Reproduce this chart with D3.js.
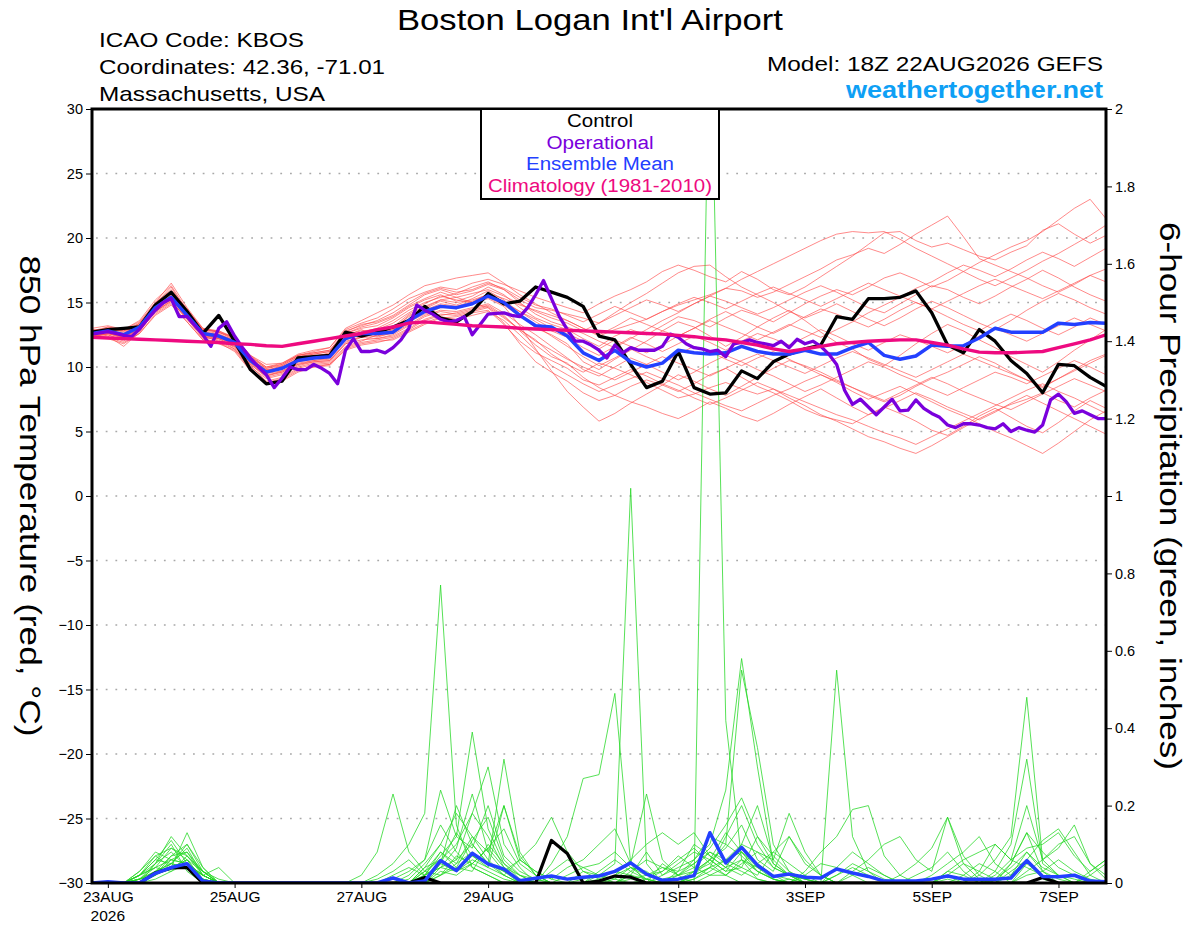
<!DOCTYPE html>
<html><head><meta charset="utf-8">
<script src="https://cdn.jsdelivr.net/npm/d3@7"></script>
<style>
body{margin:0;background:#fff}
svg{display:block;font-family:"Liberation Sans",Arial,Helvetica,sans-serif}
</style>
</head><body>
<svg id="chart" width="1200" height="927"></svg>
<script>
// ---------------- DATA ----------------
const runStartUTC = [2026, 7, 22, 18];   // 18Z 22AUG2026, 6-hourly steps
const stepHours = 6;
const opStepHours = 3;

const tempTicks = [-30,-25,-20,-15,-10,-5,0,5,10,15,20,25,30];
const precipTicks = [0,0.2,0.4,0.6,0.8,1,1.2,1.4,1.6,1.8,2];
const precipTickLabels = ["0","0.2","0.4","0.6","0.8","1","1.2","1.4","1.6","1.8","2"];
const dateTickDates = [[2026,7,23],[2026,7,25],[2026,7,27],[2026,7,29],[2026,8,1],[2026,8,3],[2026,8,5],[2026,8,7]];
const dateTickLabels = ["23AUG","25AUG","27AUG","29AUG","1SEP","3SEP","5SEP","7SEP"];

const controlTemp = [12.7,12.9,13.0,13.1,14.8,15.8,14.3,12.6,14.0,12.0,
 9.8,8.7,8.9,10.7,10.8,10.9,12.7,12.4,12.7,13.1,
 13.6,14.7,13.8,13.5,14.3,15.7,14.9,15.1,16.2,15.8,
 15.4,14.7,12.4,12.1,10.2,8.4,8.9,11.2,8.4,7.9,
 8.0,9.7,9.1,10.4,11.0,11.4,11.7,13.9,13.7,15.3,
 15.3,15.4,15.9,14.2,11.7,11.1,12.9,12.0,10.5,9.5,
 8.0,10.2,10.1,9.2,8.5];

const meanTemp = [12.6,12.8,12.5,13.1,14.6,15.4,14.0,12.6,12.4,11.9,
 10.5,9.6,9.9,10.5,10.7,10.8,12.2,12.6,12.6,12.7,
 13.6,14.3,14.7,14.6,14.9,15.5,15.0,14.0,13.2,13.1,
 12.4,11.1,10.5,11.3,10.4,10.0,10.3,11.3,11.1,11.0,
 11.1,11.6,11.2,11.0,11.0,11.3,11.0,11.0,11.5,11.9,
 10.9,10.6,10.85,11.7,11.6,11.65,12.25,13.0,12.7,12.7,
 12.7,13.4,13.3,13.45,13.4];

// operational run, 3-hourly
const operationalTemp = [12.55,12.65,12.75,12.6,12.45,12.35,12.95,13.7,14.4,15.0,
 15.3,13.9,13.9,13.2,12.5,11.6,13.0,13.5,12.4,11.5,
 10.7,10.0,9.4,8.4,9.15,10.0,9.8,9.8,10.2,9.9,
 9.5,8.7,11.3,12.2,11.2,11.2,11.3,11.1,11.5,12.1,
 13.0,14.8,14.4,14.1,13.7,13.5,13.6,13.9,12.5,13.3,
 14.1,14.15,14.2,14.0,13.9,14.6,15.6,16.7,15.3,13.9,
 12.9,12.0,12.0,11.7,11.3,10.7,11.7,11.1,11.5,11.3,
 11.3,11.3,11.6,12.55,12.3,11.8,11.5,11.4,11.2,11.3,
 10.8,11.8,11.9,12.1,11.9,11.8,11.65,12.0,11.5,12.15,
 11.8,12.0,11.6,11.0,10.2,8.2,7.1,7.5,6.9,6.3,
 6.9,7.5,6.6,6.65,7.45,6.8,6.4,6.1,5.5,5.3,
 5.6,5.6,5.5,5.3,5.2,5.6,5.0,5.3,5.1,4.95,
 5.5,7.45,7.9,7.3,6.4,6.6,6.3,6.0,6.0];

const climatologyTemp = [12.3,12.25,12.2,12.15,12.1,12.05,12.0,11.95,11.9,11.8,
 11.75,11.65,11.6,11.8,12.0,12.2,12.4,12.6,12.9,13.1,
 13.4,13.5,13.4,13.3,13.2,13.15,13.1,13.0,12.95,12.9,
 12.85,12.8,12.75,12.7,12.65,12.6,12.55,12.45,12.35,12.2,
 12.1,11.9,11.7,11.4,11.2,11.4,11.6,11.8,11.9,12.0,
 12.05,12.1,12.1,11.9,11.7,11.4,11.15,11.1,11.1,11.15,
 11.2,11.5,11.8,12.1,12.5];

const tempMember01 = [12.8,13.0,12.7,13.3,14.9,16.2,14.2,12.9,12.8,12.2,10.9,10.0,10.2,10.9,11.2,11.5,
 12.9,13.4,13.8,14.5,15.3,15.8,16.2,16.0,16.5,16.8,16.4,15.9,15.4,15.0,14.6,
 14.2,14.9,15.5,16.0,16.6,17.4,17.9,17.5,17.0,16.6,17.4,16.8,16.0,15.6,16.2,17.0,17.8,
 18.6,19.5,20.4,20.5,19.8,19.3,19.6,19.1,18.6,18.3,18.9,19.4,20.6,21.1,20.3,19.6,20.2];
const tempMember02 = [12.4,12.5,12.1,12.8,14.3,15.1,13.7,12.2,11.9,11.4,10.0,9.1,9.4,10.0,10.3,10.4,
 11.8,12.1,12.2,12.4,13.0,13.7,14.1,14.0,14.3,14.6,13.4,11.8,10.4,9.6,8.9,
 8.0,7.4,7.8,8.5,9.0,8.6,8.1,8.7,9.4,9.9,9.2,8.5,8.0,7.4,6.7,6.2,5.9,
 5.6,6.3,6.9,6.4,5.8,5.1,4.7,5.4,6.2,6.8,6.1,5.4,4.9,5.7,6.6,7.4,6.8];
const tempMember03 = [12.9,12.6,12.3,13.0,14.5,15.6,14.3,12.4,12.0,11.6,10.2,9.3,9.7,10.4,10.6,10.9,
 12.4,12.9,12.4,12.9,14.0,14.5,15.1,14.8,15.3,15.9,15.2,14.1,13.0,12.5,11.8,
 10.4,9.8,10.6,11.3,12.0,12.8,13.5,13.1,12.4,11.6,12.3,13.1,13.8,14.4,13.6,12.7,11.9,
 11.4,10.6,10.1,10.9,11.8,12.6,13.3,12.8,12.1,11.5,10.8,10.2,9.6,10.4,11.3,12.1,12.9];
const tempMember04 = [12.5,12.9,12.8,13.2,14.7,15.3,13.9,12.7,12.5,12.1,10.6,9.8,9.8,10.6,10.9,11.0,
 12.0,12.3,12.9,13.4,14.2,14.9,15.5,15.2,15.0,15.7,15.3,14.8,14.4,14.0,13.6,
 13.0,12.4,12.9,13.3,13.7,14.3,14.8,15.2,15.6,16.1,15.9,15.4,15.8,16.4,17.0,17.6,18.3,
 18.7,19.2,18.8,19.5,20.3,21.0,21.7,20.1,18.4,17.9,17.4,16.9,16.3,15.8,16.4,17.1,16.6];
const tempMember05 = [12.7,12.4,11.6,12.7,14.4,15.5,14.1,12.5,12.3,11.8,10.4,9.4,9.6,10.3,10.5,10.6,
 12.1,12.5,12.7,13.0,13.9,14.6,15.2,15.4,15.0,14.6,13.8,12.9,12.1,11.0,10.2,
 9.6,10.3,9.9,9.4,8.8,8.2,7.6,7.9,8.4,8.8,8.3,7.9,8.3,7.6,7.0,6.3,5.8,
 5.2,4.6,4.2,3.7,3.3,3.9,4.6,5.3,6.0,6.6,7.1,7.5,8.0,7.4,6.9,7.6,8.2];
const tempMember06 = [12.6,13.1,12.9,13.5,15.0,16.5,14.6,13.0,12.7,12.3,10.9,10.2,10.3,10.9,11.1,11.3,
 12.6,13.0,13.2,13.8,14.6,15.2,15.6,15.1,15.5,16.2,15.6,14.6,13.8,13.3,12.9,
 12.2,11.6,12.4,12.9,12.5,13.2,13.9,13.6,13.1,13.8,14.4,14.0,13.5,14.2,14.9,15.5,16.0,
 15.6,16.2,16.9,17.3,16.8,16.2,16.7,17.4,18.1,18.7,19.3,19.8,20.5,21.4,22.3,23.0,21.5];
const tempMember07 = [12.3,12.6,12.4,12.9,14.2,15.0,13.8,12.3,12.2,11.5,10.1,8.9,9.2,9.9,10.2,10.3,
 11.6,12.0,12.5,12.8,13.6,14.3,14.8,14.5,14.9,15.3,14.7,13.2,11.4,9.7,8.1,
 6.9,5.8,6.4,7.2,7.9,8.6,9.4,8.9,8.3,7.8,8.5,9.2,9.9,10.5,10.1,9.6,9.0,
 8.4,7.8,7.3,7.8,8.5,9.1,9.6,10.2,10.8,10.3,9.6,9.0,8.4,9.1,9.8,10.5,11.0];
const tempMember08 = [12.9,12.8,12.6,13.4,14.8,15.8,14.5,12.8,12.6,12.0,10.7,9.7,10.1,10.8,11.0,11.2,
 12.7,13.3,13.5,14.0,14.8,15.6,16.0,15.6,15.9,16.4,16.0,15.2,14.6,14.4,14.1,
 13.8,13.4,14.2,15.0,15.7,16.5,17.3,17.8,17.9,17.0,16.2,15.6,15.0,14.3,13.8,14.3,14.9,
 14.3,13.7,13.2,13.8,14.5,15.1,14.6,14.0,13.4,12.9,13.6,14.4,15.1,15.7,15.2,14.6,14.1];
const tempMember09 = [12.5,12.7,12.3,12.9,14.4,15.3,13.9,12.6,12.4,11.9,10.3,9.5,9.7,10.2,10.4,10.5,
 11.9,12.4,12.4,12.6,13.3,14.0,14.4,14.3,14.6,14.9,14.2,13.3,12.5,11.6,10.7,
 9.8,9.3,10.0,10.7,10.2,9.6,9.0,9.6,10.3,10.9,10.4,9.8,9.3,8.7,8.1,8.6,9.2,
 9.8,10.4,10.0,9.4,8.9,8.3,7.8,8.4,9.0,9.6,9.2,8.7,9.3,9.9,10.5,10.0,9.4];
const tempMember10 = [12.7,12.9,12.6,13.2,14.6,15.6,14.0,12.5,12.2,11.8,10.5,9.6,10.0,10.7,10.8,11.0,
 12.3,12.7,13.0,13.6,14.4,15.0,15.4,15.7,16.2,16.6,16.0,15.0,14.1,13.5,13.1,
 12.6,12.0,11.5,12.2,12.9,13.6,14.2,14.9,15.5,15.1,14.6,14.1,14.6,15.2,15.8,16.3,15.8,
 15.2,14.6,14.2,14.9,15.6,16.3,16.0,15.4,14.9,15.5,16.2,16.8,17.5,16.9,16.2,15.6,15.1];
const tempMember11 = [12.4,12.6,12.2,12.8,14.5,15.2,13.8,12.4,12.3,11.7,10.3,9.3,9.6,10.2,10.5,10.7,
 12.2,12.6,12.3,12.7,13.5,14.1,14.6,14.6,15.0,15.4,14.8,13.9,13.2,12.4,11.6,
 10.8,10.1,10.7,11.4,10.8,10.3,11.0,11.6,11.2,10.6,10.1,10.7,11.2,10.6,10.0,9.4,8.8,
 8.1,7.5,8.0,8.5,7.9,7.3,6.7,6.2,5.6,5.0,4.5,3.9,3.3,4.1,5.0,5.9,6.6];
const tempMember12 = [12.8,12.7,12.5,13.1,14.7,15.7,14.1,12.7,12.5,11.9,10.6,9.8,10.0,10.6,10.8,11.1,
 12.5,12.8,12.9,13.1,14.1,14.7,15.2,15.0,15.2,15.6,15.0,14.3,13.7,13.0,12.6,
 12.0,11.4,12.1,11.6,11.1,11.7,12.4,13.0,13.7,14.3,13.7,13.1,12.6,13.2,13.9,14.5,14.1,
 13.6,13.1,13.7,14.4,15.0,14.5,13.9,13.3,12.8,13.5,14.1,13.6,13.0,12.5,13.1,13.8,13.3];
const tempMember13 = [12.6,12.5,12.0,12.9,14.3,15.2,13.9,12.3,12.1,11.4,9.9,8.8,9.0,9.7,10.1,10.2,
 11.5,11.9,12.1,12.3,12.9,13.6,14.0,14.2,14.5,14.8,14.0,12.8,11.7,10.8,10.3,
 9.2,8.4,7.8,7.3,6.9,6.4,6.0,6.6,7.3,6.8,6.2,5.8,6.4,7.1,7.7,8.3,7.6,
 6.9,6.3,6.8,7.4,8.0,7.5,6.9,6.4,5.9,6.5,7.2,7.8,7.2,6.6,6.0,5.4,4.8];
const tempMember14 = [13.0,13.2,12.9,13.6,15.2,16.3,14.4,13.0,12.8,12.3,10.8,10.0,10.3,11.0,11.3,11.5,
 13.0,13.6,14.2,14.8,15.6,16.3,16.6,16.9,17.1,17.3,16.5,15.6,14.9,14.2,13.6,
 13.0,12.5,13.1,13.8,13.3,12.8,12.4,13.0,13.6,13.1,12.6,12.1,12.7,13.3,12.8,12.3,12.9,
 13.5,14.2,14.8,15.4,16.1,16.6,17.3,17.9,17.5,17.0,17.6,18.3,18.9,18.4,17.8,18.5,19.2];
const tempMember15 = [12.5,12.3,11.9,12.6,14.1,14.9,13.5,12.1,11.8,11.3,9.8,8.7,8.9,9.6,10.0,10.1,
 11.4,11.8,12.0,12.1,12.7,13.3,13.8,13.9,14.2,14.4,13.3,12.0,11.1,10.5,9.9,
 9.0,8.6,9.2,9.8,9.3,8.7,8.2,7.6,7.1,7.6,8.2,8.8,8.3,7.8,7.3,6.8,6.3,
 5.9,5.4,4.9,4.5,4.0,4.6,5.2,5.8,6.4,7.0,7.6,8.2,8.7,8.1,7.6,7.0,6.4];
const tempMember16 = [12.7,12.8,12.4,13.0,14.6,15.4,14.2,12.6,12.5,12.0,10.5,9.5,9.9,10.5,10.7,10.8,
 12.2,12.7,12.6,12.9,13.7,14.4,14.9,14.7,15.1,15.6,15.1,14.3,13.5,12.8,12.3,
 11.5,10.9,11.6,12.3,11.8,11.2,11.8,12.4,11.9,11.3,12.0,12.6,12.2,11.7,12.3,12.9,12.4,
 11.8,11.3,11.9,12.5,12.1,11.6,11.1,11.7,12.4,13.0,12.5,12.0,12.6,13.2,13.8,13.3,12.8];
const tempMember17 = [12.6,13.0,12.8,13.3,14.8,15.9,14.3,12.9,12.7,12.1,10.8,9.9,10.1,10.8,11.0,11.2,
 12.6,13.1,13.4,13.9,14.7,15.3,15.8,15.4,15.7,16.0,15.5,14.9,14.3,13.8,13.4,
 12.8,13.4,14.0,14.6,15.2,14.8,14.3,14.9,15.5,16.1,16.8,17.4,18.0,18.6,19.2,19.8,20.3,
 20.5,20.4,20.5,19.9,19.2,18.6,18.0,17.4,16.8,16.3,16.9,17.5,18.2,18.8,19.5,20.2,21.0];
const tempMember18 = [12.4,12.6,12.3,12.8,14.3,15.1,13.7,12.4,12.2,11.6,10.2,9.2,9.5,10.1,10.4,10.5,
 11.8,12.3,12.2,12.5,13.2,13.9,14.3,14.1,14.4,14.7,13.9,12.9,12.0,11.3,10.6,
 10.0,9.5,9.0,9.6,10.2,10.8,10.3,9.8,9.3,9.9,10.5,11.0,10.5,10.0,9.5,10.1,10.7,
 11.2,10.7,10.2,9.7,9.2,9.8,10.4,11.0,10.5,10.0,9.5,9.0,8.5,9.1,9.7,10.3,10.9];
const tempMember19 = [12.8,13.1,12.8,13.4,15.0,16.0,14.5,12.9,12.7,12.2,10.7,9.9,10.2,10.9,11.1,11.3,
 12.8,13.2,13.6,14.2,15.0,15.7,16.1,15.8,16.0,16.5,16.1,15.4,14.8,14.5,14.0,
 13.5,14.1,14.7,14.2,13.7,14.3,14.9,15.4,15.0,14.5,15.1,15.7,16.2,15.7,15.2,14.7,15.3,
 15.9,16.5,16.0,15.5,15.0,14.5,15.1,15.7,16.3,16.8,16.3,15.8,15.3,15.9,16.5,17.1,17.6];
const tempMember20 = [12.3,12.2,11.8,12.6,14.0,14.8,13.5,12.1,11.9,11.2,9.7,8.8,9.1,9.8,10.0,10.2,
 11.3,11.7,11.9,12.2,12.8,13.4,13.9,13.7,14.0,14.3,13.6,12.5,11.3,10.1,9.4,
 8.7,8.1,8.6,9.1,9.6,9.1,8.6,8.0,7.5,7.0,6.6,7.2,7.8,8.3,8.9,9.4,8.9,
 8.4,7.9,7.4,8.0,8.6,9.2,8.7,8.1,7.6,7.1,6.7,7.3,7.9,8.5,9.1,8.6,8.1];

const controlPrecip = [0,0,0,0,0.026,0.039,0.04,0,0,0,
 0,0,0,0,0,0,0,0,0,0,
 0,0.014,0,0,0,0,0,0,0,0.11,
 0.076,0,0.005,0.018,0.015,0,0,0,0,0,
 0,0,0,0,0,0,0,0,0,0,
 0,0,0,0,0,0,0,0,0,0,
 0.014,0,0,0,0];

const meanPrecip = [0,0.003,0,0,0.025,0.04,0.05,0.005,0,0,
 0,0,0,0,0,0,0,0,0,0.013,
 0,0.005,0.058,0.032,0.077,0.049,0.036,0.006,0.012,0.018,
 0.01,0.015,0.018,0.03,0.052,0.023,0.007,0.01,0.019,0.13,
 0.052,0.092,0.046,0.017,0.023,0.015,0.013,0.036,0.026,0.017,
 0.005,0.005,0.005,0.01,0.018,0.01,0.01,0.01,0.013,0.058,
 0.017,0.016,0.02,0.005,0.003];

const precipMember01 = [0,0,0,0.01,0.04,0.09,0.06,0.01,0,0, 0,0,0,0,0,0,0,0,0.02,0.05, 0.1,0.18,0.77,0.15,0.04,0.02,0,0,0,0, 0,0,0,0.02,0.04,0.01,0,0,0.03,0.05, 0.02,0,0,0,0.01,0,0,0,0,0, 0,0,0,0,0,0,0,0,0.02,0.06, 0.01,0,0,0,0];
const precipMember02 = [0,0,0,0.02,0.06,0.11,0.05,0,0,0, 0,0,0,0,0,0,0,0,0,0, 0,0.03,0.08,0.05,0.12,0.06,0.02,0,0,0, 0,0.01,0.02,0.03,0.05,0.02,0.01,0.02,0,2.3, 0.42,0.06,0.01,0,0,0,0,0,0,0, 0,0,0,0,0.03,0.02,0,0,0,0, 0,0,0,0,0];
const precipMember03 = [0,0,0,0,0.03,0.05,0.04,0.02,0,0, 0,0,0,0,0,0,0,0,0,0, 0,0,0.04,0.09,0.23,0.08,0.03,0,0,0.05, 0.12,0.27,0.28,0.49,0.05,0,0,0,0.02,0.04, 0.12,0.2,0.1,0.04,0.02,0,0,0,0,0, 0,0,0,0,0,0,0,0,0.05,0.13, 0.03,0,0,0,0];
const precipMember04 = [0,0,0,0.01,0.02,0.07,0.08,0.03,0,0, 0,0,0,0,0,0,0,0,0,0, 0.02,0.06,0.24,0.12,0.39,0.14,0.05,0.01,0,0, 0,0,0.02,0.05,1.02,0.05,0,0.01,0.03,0.06, 0.03,0.08,0.04,0.01,0,0,0,0.02,0.04,0.02, 0,0,0,0,0.02,0,0,0,0,0, 0,0,0,0,0];
const precipMember05 = [0,0,0,0.02,0.07,0.04,0.13,0.04,0,0, 0,0,0,0,0,0,0,0,0.01,0.03, 0.06,0.02,0.05,0.2,0.1,0.05,0.32,0.08,0.02,0, 0,0,0,0,0.02,0.08,0.02,0.04,0.06,0.1, 0.24,0.58,0.3,0.05,0.02,0,0,0,0,0, 0,0,0,0,0,0,0.03,0.1,0.06,0.04, 0.02,0,0,0,0];
const precipMember06 = [0,0,0,0,0.05,0.1,0.03,0,0,0, 0,0,0,0,0,0,0,0,0,0, 0,0.04,0.1,0.06,0.18,0.3,0.1,0.04,0,0, 0.02,0.04,0.02,0,0,0,0.05,0.02,0.06,0.12, 0.1,0.55,0.35,0.1,0.03,0,0,0,0,0, 0,0,0,0,0,0,0.02,0.06,0.12,0.48, 0.06,0.02,0,0,0];
const precipMember07 = [0,0,0,0.03,0.08,0.06,0.05,0.02,0,0, 0,0,0,0,0,0,0,0,0,0, 0,0.01,0.05,0.13,0.07,0.04,0.2,0.06,0.03,0.01, 0,0,0,0.01,0.04,0.03,0,0,0.01,0.03, 0.06,0.04,0.02,0.08,0.05,0.02,0,0.55,0.12,0.03, 0,0,0,0,0.01,0,0,0,0,0, 0,0,0,0,0];
const precipMember08 = [0,0,0,0,0.03,0.05,0.09,0.02,0.04,0, 0,0,0,0,0,0,0,0.02,0.08,0.23, 0.08,0.03,0.06,0.1,0.18,0.12,0.04,0,0,0, 0,0.03,0.02,0.01,0,0,0,0,0,0.02, 0.04,0.1,0.08,0.06,0.18,0.08,0.02,0,0,0, 0,0.02,0.05,0.09,0.17,0.05,0.01,0,0,0, 0,0,0,0,0];
const precipMember09 = [0,0,0,0.01,0.03,0.04,0.06,0.01,0,0, 0,0,0,0,0,0,0,0,0,0.02, 0.04,0.02,0.08,0.04,0.11,0.17,0.06,0.02,0,0, 0,0,0,0,0.02,0.01,0,0,0.02,0.04, 0.02,0.06,0.04,0.02,0,0.03,0.08,0.12,0.19,0.2, 0.07,0.02,0,0,0,0,0,0.03,0.1,0.32, 0.05,0.02,0,0,0];
const precipMember10 = [0,0,0,0.02,0.05,0.08,0.04,0.01,0,0, 0,0,0,0,0,0,0,0,0,0, 0,0.02,0.04,0.03,0.06,0.04,0.02,0.06,0.03,0.01, 0.04,0.06,0.1,0.14,0.05,0.23,0.06,0.02,0.05,0.08, 0.05,0.03,0.01,0,0,0,0,0,0.03,0.06, 0.1,0.12,0.06,0.03,0.17,0.07,0.02,0,0.03,0.06, 0.11,0.14,0.08,0.02,0];
const precipMember11 = [0,0,0,0,0.02,0.06,0.08,0.02,0,0, 0,0,0,0,0,0,0,0,0,0, 0,0.03,0.02,0.05,0.08,0.05,0.03,0.06,0.1,0.17, 0.08,0.03,0.01,0,0,0,0.02,0.05,0.08,0.06, 0.03,0.04,0.12,0.07,0.03,0.01,0,0,0,0, 0,0,0,0.02,0.05,0.08,0.12,0.05,0.02,0.08, 0.04,0.02,0.01,0,0];
const precipMember12 = [0,0,0,0.02,0.04,0.03,0.07,0.03,0,0, 0,0,0,0,0,0,0,0,0,0, 0,0,0.02,0.07,0.05,0.09,0.14,0.05,0.02,0, 0,0,0.03,0.06,0.03,0.01,0,0,0.02,0.06, 0.09,0.15,0.06,0.03,0.12,0.06,0.02,0,0,0, 0,0,0,0,0,0,0,0.02,0.06,0.2, 0.06,0.09,0.15,0.05,0.01];
const precipMember13 = [0,0,0,0.01,0.03,0.07,0.1,0.03,0,0, 0,0,0,0,0,0,0,0,0,0.01, 0.03,0.06,0.15,0.08,0.04,0.02,0,0,0,0, 0,0,0,0.02,0.06,0.1,0.13,0.1,0.13,0.07, 0.04,0.06,0.03,0.01,0,0,0,0.02,0.05,0.03, 0.01,0,0,0,0,0,0,0,0,0, 0,0,0,0.03,0.06];
const precipMember14 = [0,0,0,0.02,0.06,0.05,0.04,0.01,0,0, 0,0,0,0,0,0,0,0,0,0, 0.01,0.05,0.1,0.18,0.12,0.08,0.2,0.07,0.02,0, 0,0,0,0,0,0,0,0,0.01,0.04, 0.06,0.08,0.05,0.02,0.01,0,0,0,0.02,0.04, 0.02,0,0,0,0.03,0.06,0.08,0.1,0.06,0.09, 0.1,0.13,0.07,0.03,0.06];
const precipMember15 = [0,0,0,0,0.01,0.03,0.05,0.02,0,0, 0,0,0,0,0,0,0,0,0,0, 0,0,0.03,0.02,0.05,0.03,0.01,0,0,0, 0,0,0,0,0.01,0.02,0.03,0.06,0.09,0.05, 0.1,0.07,0.03,0.01,0,0.02,0.05,0.04,0.02,0, 0,0,0,0,0,0,0,0,0,0.02, 0.03,0.01,0,0,0];
const precipMember16 = [0,0,0,0.01,0.05,0.12,0.07,0.02,0,0, 0,0,0,0,0,0,0,0,0,0, 0,0.02,0.07,0.12,0.09,0.2,0.07,0.03,0.01,0, 0,0,0.01,0.03,0.02,0,0,0.03,0.05,0.09, 0.15,0.22,0.12,0.05,0.02,0,0,0,0,0, 0,0,0.02,0.04,0.08,0.03,0,0,0,0.05, 0.02,0,0,0.02,0.05];
const precipMember17 = [0,0,0,0.02,0.04,0.06,0.05,0.02,0,0, 0,0,0,0,0,0,0,0,0,0, 0,0,0.05,0.03,0.07,0.05,0.03,0.01,0,0.03, 0.06,0.04,0.05,0.08,0.04,0.02,0.04,0.03,0.1,0.07, 0.04,0.02,0.05,0.08,0.12,0.05,0.02,0,0,0, 0,0,0,0,0,0,0,0.01,0.04,0.08, 0.03,0.06,0.03,0.01,0];
const precipMember18 = [0,0,0,0.01,0.02,0.04,0.06,0.03,0.01,0, 0,0,0,0,0,0,0,0,0,0, 0,0.02,0.04,0.06,0.1,0.05,0.02,0,0,0, 0,0,0,0,0.03,0.06,0.04,0.02,0.04,0.08, 0.06,0.1,0.2,0.06,0.02,0.01,0,0.04,0.08,0.05, 0.02,0,0,0,0.02,0.05,0.03,0.01,0.05,0.13, 0.08,0.04,0.02,0,0];
const precipMember19 = [0,0,0,0.03,0.07,0.09,0.07,0.03,0,0, 0,0,0,0,0,0,0,0,0,0, 0,0,0.02,0.04,0.03,0.1,0.05,0.02,0,0, 0,0,0,0,0,0,0,0.02,0.03,0.06, 0.13,0.08,0.03,0.01,0,0,0,0,0,0, 0,0,0,0,0,0,0,0,0,0.03, 0.06,0.1,0.12,0.05,0.02];
const precipMember20 = [0,0,0,0,0.02,0.05,0.1,0.04,0,0, 0,0,0,0,0,0,0,0,0,0, 0,0.04,0.06,0.03,0.05,0.09,0.04,0.02,0.01,0, 0,0,0,0,0,0.01,0.03,0.07,0.04,0.02, 0.02,0.05,0.08,0.04,0.02,0.01,0,0,0,0, 0,0,0,0,0,0.02,0.05,0.03,0,0, 0,0,0,0,0];

const tempMembers = [tempMember01,tempMember02,tempMember03,tempMember04,tempMember05,tempMember06,tempMember07,tempMember08,tempMember09,tempMember10,
  tempMember11,tempMember12,tempMember13,tempMember14,tempMember15,tempMember16,tempMember17,tempMember18,tempMember19,tempMember20];
const precipMembers = [precipMember01,precipMember02,precipMember03,precipMember04,precipMember05,precipMember06,precipMember07,precipMember08,precipMember09,precipMember10,
  precipMember11,precipMember12,precipMember13,precipMember14,precipMember15,precipMember16,precipMember17,precipMember18,precipMember19,precipMember20];

// ---------------- CHART ----------------
const svg = d3.select("#chart");
const W = 1200, H = 927;
const plot = {left: 92, right: 1106, top: 109, bottom: 883};

svg.append("rect").attr("width", W).attr("height", H).attr("fill", "#fff");

const t0 = Date.UTC(...runStartUTC);
const timeAt = (i, step) => new Date(t0 + i * step * 3600e3);
const x = d3.scaleUtc().domain([timeAt(0, stepHours), timeAt(64, stepHours)]).range([plot.left, plot.right]);
const yT = d3.scaleLinear().domain([-30, 30]).range([plot.bottom, plot.top]);
const yP = d3.scaleLinear().domain([0, 2]).range([plot.bottom, plot.top]);

svg.append("defs").append("clipPath").attr("id", "clip")
  .append("rect").attr("x", plot.left).attr("y", plot.top)
  .attr("width", plot.right - plot.left).attr("height", plot.bottom - plot.top);

// grid
svg.append("g").selectAll("line").data(tempTicks.filter(d => d > -30 && d < 30)).join("line")
  .attr("x1", plot.left + 4).attr("x2", plot.right)
  .attr("y1", d => yT(d)).attr("y2", d => yT(d))
  .attr("stroke", "#a8a8a8").attr("stroke-width", 1.6).attr("stroke-dasharray", "1.8 7.9");

const g = svg.append("g").attr("clip-path", "url(#clip)");

const lineT = (step) => d3.line().x((d, i) => x(timeAt(i, step))).y(d => yT(d));
const lineP = d3.line().x((d, i) => x(timeAt(i, stepHours))).y(d => yP(d));

// ensemble members
g.append("g").selectAll("path").data(tempMembers).join("path")
  .attr("d", lineT(stepHours)).attr("fill", "none")
  .attr("stroke", "#ff4a4a").attr("stroke-opacity", 0.72).attr("stroke-width", 0.9);
g.append("g").selectAll("path").data(precipMembers).join("path")
  .attr("d", lineP).attr("fill", "none")
  .attr("stroke", "#22d822").attr("stroke-opacity", 0.85).attr("stroke-width", 0.9);

// precip control & mean
g.append("path").datum(controlPrecip).attr("d", lineP).attr("fill", "none")
  .attr("stroke", "#000").attr("stroke-width", 3.2).attr("stroke-linejoin", "round");
g.append("path").datum(meanPrecip).attr("d", lineP).attr("fill", "none")
  .attr("stroke", "#2340ff").attr("stroke-width", 3.5).attr("stroke-linejoin", "round");

// temperature lines
g.append("path").datum(controlTemp).attr("d", lineT(stepHours)).attr("fill", "none")
  .attr("stroke", "#000").attr("stroke-width", 3.3).attr("stroke-linejoin", "round");
g.append("path").datum(meanTemp).attr("d", lineT(stepHours)).attr("fill", "none")
  .attr("stroke", "#2340ff").attr("stroke-width", 3.5).attr("stroke-linejoin", "round");
g.append("path").datum(operationalTemp).attr("d", lineT(opStepHours)).attr("fill", "none")
  .attr("stroke", "#7a00dc").attr("stroke-width", 3.3).attr("stroke-linejoin", "round");
g.append("path").datum(climatologyTemp).attr("d", lineT(stepHours)).attr("fill", "none")
  .attr("stroke", "#ee0a80").attr("stroke-width", 3.4).attr("stroke-linejoin", "round");

// axes
const axL = svg.append("g").attr("transform", `translate(${plot.left},0)`)
  .call(d3.axisLeft(yT).tickValues(tempTicks).tickSize(6).tickPadding(3));
const axR = svg.append("g").attr("transform", `translate(${plot.right},0)`)
  .call(d3.axisRight(yP).tickValues(precipTicks).tickSize(6).tickPadding(3)
    .tickFormat((d, i) => precipTickLabels[i]));
const dateTicks = dateTickDates.map(a => new Date(Date.UTC(...a)));
const axB = svg.append("g").attr("transform", `translate(0,${plot.bottom})`)
  .call(d3.axisBottom(x).tickValues(dateTicks).tickSize(5).tickPadding(3)
    .tickFormat((d, i) => dateTickLabels[i]));
[axL, axR, axB].forEach(a => {
  a.select(".domain").remove();
  a.selectAll("text").attr("font-size", 14.5).attr("fill", "#000")
    .attr("font-family", "'Liberation Sans',Arial,sans-serif");
  a.selectAll("line").attr("stroke", "#000").attr("stroke-width", 1);
});
axB.selectAll("text").attr("font-size", 15.5);
svg.append("text").attr("x", x(dateTicks[0])).attr("y", 921).attr("text-anchor", "middle")
  .attr("font-size", 15.5).text("2026");

// frame
svg.append("rect").attr("x", plot.left).attr("y", plot.top)
  .attr("width", plot.right - plot.left).attr("height", plot.bottom - plot.top)
  .attr("fill", "none").attr("stroke", "#000").attr("stroke-width", 3);

// helper: fit a text to a measured width
function fitText(sel, len) {
  sel.attr("textLength", len).attr("lengthAdjust", "spacingAndGlyphs");
  return sel;
}

// legend
const legend = svg.append("g");
legend.append("rect").attr("x", 481).attr("y", plot.top).attr("width", 238).attr("height", 90)
  .attr("fill", "#fff").attr("stroke", "#000").attr("stroke-width", 2);
const legendItems = [["Control", "#000", 66], ["Operational", "#7a00dc", 107], ["Ensemble Mean", "#2340ff", 148], ["Climatology (1981-2010)", "#ee0a80", 224]];
legend.selectAll("text").data(legendItems).join("text")
  .attr("x", 600).attr("y", (d, i) => 127 + i * 21.7).attr("text-anchor", "middle")
  .attr("font-size", 18).attr("fill", d => d[1]).text(d => d[0])
  .attr("textLength", d => d[2]).attr("lengthAdjust", "spacingAndGlyphs");

// titles
fitText(svg.append("text").attr("x", 590).attr("y", 30).attr("text-anchor", "middle")
  .attr("font-size", 30).text("Boston Logan Int'l Airport"), 386);
const hdr = [["ICAO Code: KBOS", 47, 205], ["Coordinates: 42.36, -71.01", 74, 286], ["Massachusetts, USA", 101, 226]];
svg.append("g").selectAll("text").data(hdr).join("text")
  .attr("x", 99).attr("y", d => d[1]).attr("font-size", 21).text(d => d[0])
  .attr("textLength", d => d[2]).attr("lengthAdjust", "spacingAndGlyphs");
fitText(svg.append("text").attr("x", 1103).attr("y", 71).attr("text-anchor", "end")
  .attr("font-size", 21).text("Model: 18Z 22AUG2026 GEFS"), 336);
fitText(svg.append("text").attr("x", 1103).attr("y", 98).attr("text-anchor", "end")
  .attr("font-size", 23).attr("font-weight", "bold").attr("fill", "#0ea0f5").text("weathertogether.net"), 257);

fitText(svg.append("text").attr("transform", "translate(20,496) rotate(90)").attr("text-anchor", "middle")
  .attr("font-size", 30).text("850 hPa Temperature (red, °C)"), 481);
fitText(svg.append("text").attr("transform", "translate(1160,496) rotate(90)").attr("text-anchor", "middle")
  .attr("font-size", 29).text("6-hour Precipitation (green, inches)"), 548);
</script>
</body></html>
